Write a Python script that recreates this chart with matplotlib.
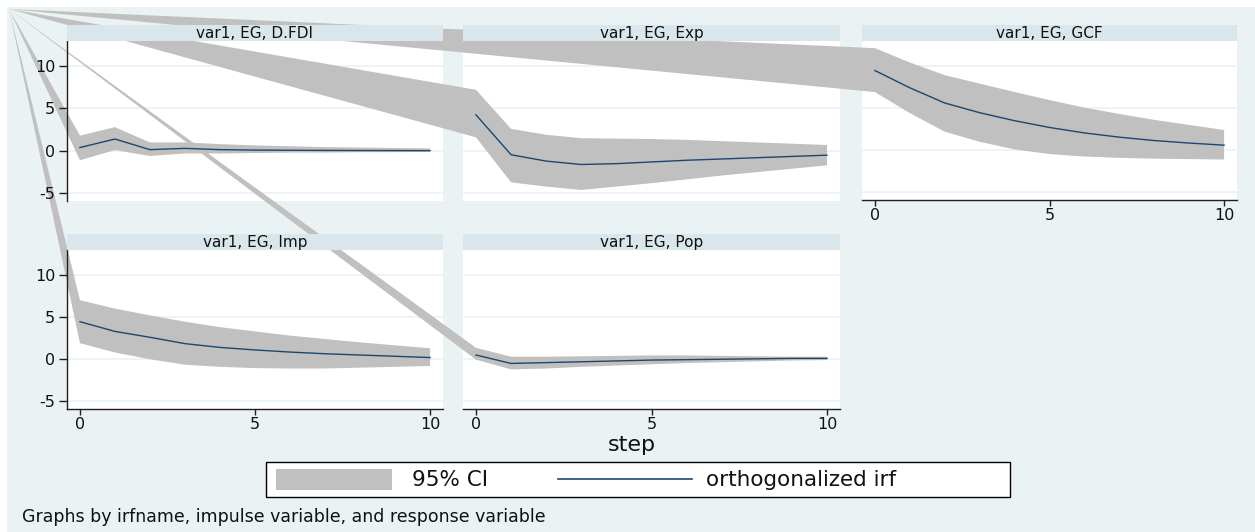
import numpy as np
import matplotlib
matplotlib.use("Agg")
import matplotlib.pyplot as plt
from matplotlib.patches import Polygon, Rectangle
from matplotlib.lines import Line2D

# ---------------- data ----------------
steps = np.arange(11)
x_ticks = [0, 5, 10]
y_ticks = [-5, 0, 5, 10]

titles = ["var1, EG, D.FDI", "var1, EG, Exp", "var1, EG, GCF",
          "var1, EG, Imp", "var1, EG, Pop"]

fdi_irf = [0.4, 1.4, 0.15, 0.3, 0.15, 0.1, 0.08, 0.06, 0.05, 0.04, 0.03]
fdi_hi = [1.8, 2.8, 1.0, 1.0, 0.8, 0.65, 0.55, 0.45, 0.4, 0.35, 0.3]
fdi_lo = [-1.1, 0.1, -0.6, -0.3, -0.3, -0.25, -0.2, -0.2, -0.15, -0.15, -0.1]

exp_irf = [4.25, -0.45, -1.2, -1.6, -1.5, -1.3, -1.1, -0.95, -0.8, -0.65, -0.5]
exp_hi = [7.2, 2.6, 1.9, 1.5, 1.45, 1.4, 1.3, 1.15, 1.0, 0.85, 0.7]
exp_lo = [1.6, -3.7, -4.2, -4.6, -4.2, -3.8, -3.35, -2.9, -2.5, -2.1, -1.7]

gcf_irf = [9.45, 7.4, 5.6, 4.45, 3.5, 2.7, 2.05, 1.55, 1.15, 0.85, 0.6]
gcf_hi = [12.1, 10.4, 8.9, 7.9, 6.9, 5.95, 5.05, 4.3, 3.6, 3.0, 2.4]
gcf_lo = [6.9, 4.4, 2.2, 1.0, 0.1, -0.45, -0.75, -0.9, -1.0, -1.05, -1.1]

imp_irf = [4.45, 3.3, 2.6, 1.85, 1.4, 1.1, 0.85, 0.65, 0.5, 0.35, 0.2]
imp_hi = [7.0, 6.0, 5.2, 4.45, 3.8, 3.3, 2.8, 2.4, 2.0, 1.65, 1.3]
imp_lo = [1.9, 0.8, 0.0, -0.65, -0.9, -1.05, -1.1, -1.1, -1.0, -0.9, -0.8]

pop_irf = [0.5, -0.5, -0.4, -0.3, -0.2, -0.1, -0.05, 0.0, 0.05, 0.1, 0.1]
pop_hi = [1.35, 0.3, 0.3, 0.35, 0.4, 0.45, 0.45, 0.4, 0.35, 0.3, 0.3]
pop_lo = [-0.05, -1.2, -1.1, -0.9, -0.75, -0.6, -0.45, -0.35, -0.25, -0.15, -0.1]

legend_labels = ["95% CI", "orthogonalized irf"]
x_title = "step"
note = "Graphs by irfname, impulse variable, and response variable"

# ---------------- style ----------------
plt.rcParams['font.family'] = ['DejaVu Sans']
plt.rcParams['axes.unicode_minus'] = False

BG = '#EAF2F3'
STRIP = '#D9E6EB'
GRID = '#EAF2F3'
CI = '#C0C0C0'
NAVY = '#1A476F'
AXC = '#202020'
TXT = '#111111'

W, H = 1255, 532
fig = plt.figure(figsize=(W / 100, H / 100), dpi=100, facecolor='white')
fig.add_artist(Rectangle((7 / W, 0), 1 - 7 / W, 1 - 7 / H, transform=fig.transFigure,
                         facecolor=BG, edgecolor='none', zorder=-10))

def fx(x):
    return x / W

def fy(y):
    return 1 - y / H

XLIM = (-0.37, 10.37)
YLIM = (-5.9, 12.95)
APEX = (fx(9), fy(9))

panels = [
    (titles[0], fdi_irf, fdi_lo, fdi_hi, (67, 41, 443, 201), True, False),
    (titles[1], exp_irf, exp_lo, exp_hi, (463, 41, 840, 201), False, False),
    (titles[2], gcf_irf, gcf_lo, gcf_hi, (862, 41, 1237, 200), False, True),
    (titles[3], imp_irf, imp_lo, imp_hi, (67, 250, 443, 409), True, True),
    (titles[4], pop_irf, pop_lo, pop_hi, (463, 250, 840, 409), False, True),
]

strip_h = 16.5

for title, irf, lo, hi, (x0, y0, x1, y1), show_y, show_x in panels:
    rect = [fx(x0), fy(y1), (x1 - x0) / W, (y1 - y0) / H]
    # back layer: white plot region + grid
    back = fig.add_axes(rect, zorder=0)
    back.set_facecolor('white')
    back.set_xlim(*XLIM)
    back.set_ylim(*YLIM)
    for yv in y_ticks:
        back.axhline(yv, color=GRID, lw=1.2)
    back.set_xticks([])
    back.set_yticks([])
    for s in back.spines.values():
        s.set_visible(False)

    # front layer: axis lines, ticks, labels
    ax = fig.add_axes(rect, zorder=1.5)
    ax.patch.set_visible(False)
    ax.set_xlim(*XLIM)
    ax.set_ylim(*YLIM)
    for s in ax.spines.values():
        s.set_visible(False)
    ax.spines['left'].set_visible(show_y)
    ax.spines['bottom'].set_visible(show_x)
    ax.spines['left'].set_color(AXC)
    ax.spines['bottom'].set_color(AXC)
    ax.spines['left'].set_linewidth(1.0)
    ax.spines['bottom'].set_linewidth(1.0)
    ax.set_xticks(x_ticks)
    ax.set_yticks(y_ticks)
    ax.set_xticklabels([str(v) for v in x_ticks])
    ax.set_yticklabels([str(v) for v in y_ticks])
    ax.tick_params(axis='y', left=show_y, labelleft=show_y, length=6, width=1,
                   color=AXC, pad=2.5, labelsize=11.5, labelcolor=TXT)
    ax.tick_params(axis='x', bottom=show_x, labelbottom=show_x, length=4, width=1,
                   color=AXC, pad=2, labelsize=11.5, labelcolor=TXT)

    # CI band polygon (with the spurious vertex at the graph corner)
    to_fig = ax.transData + fig.transFigure.inverted()
    pts = np.column_stack([np.r_[steps, steps[::-1]],
                           np.r_[np.asarray(hi), np.asarray(lo)[::-1]]])
    fpts = to_fig.transform(pts)
    poly = Polygon(np.vstack([[APEX], fpts]), closed=True, transform=fig.transFigure,
                   facecolor=CI, edgecolor='none', zorder=1)
    fig.add_artist(poly)

    ln = Line2D(steps, irf, transform=ax.transData, color=NAVY, lw=1.0, zorder=2)
    fig.add_artist(ln)

    # strip title
    sax = fig.add_axes([fx(x0), fy(y0), (x1 - x0) / W, strip_h / H], zorder=3)
    sax.set_facecolor(STRIP)
    sax.set_xticks([])
    sax.set_yticks([])
    for s in sax.spines.values():
        s.set_visible(False)
    sax.text(0.5, 0.45, title, ha='center', va='center', fontsize=11,
             color=TXT, transform=sax.transAxes)

# x title
fig.text(fx(632), fy(445), x_title, ha='center', va='center', fontsize=16, color=TXT)

# legend
fig.add_artist(Rectangle((fx(266), fy(497)), (1010 - 266) / W, (497 - 462) / H,
                         transform=fig.transFigure, facecolor='white',
                         edgecolor='black', lw=1.0, zorder=4))
fig.add_artist(Rectangle((fx(276), fy(490)), (392 - 276) / W, (490 - 469) / H,
                         transform=fig.transFigure, facecolor=CI,
                         edgecolor='none', zorder=5))
fig.text(fx(412), fy(480), legend_labels[0], ha='left', va='center', fontsize=15.5,
         color=TXT, zorder=5)
fig.add_artist(Line2D([fx(558), fx(692)], [fy(479), fy(479)], transform=fig.transFigure,
                      color=NAVY, lw=1.2, zorder=5))
fig.text(fx(706), fy(480), legend_labels[1], ha='left', va='center', fontsize=15.5,
         color=TXT, zorder=5)

# note
fig.text(fx(22), fy(517), note, ha='left', va='center', fontsize=12.5, color=TXT)

fig.savefig('out.png', dpi=100, facecolor='white')
